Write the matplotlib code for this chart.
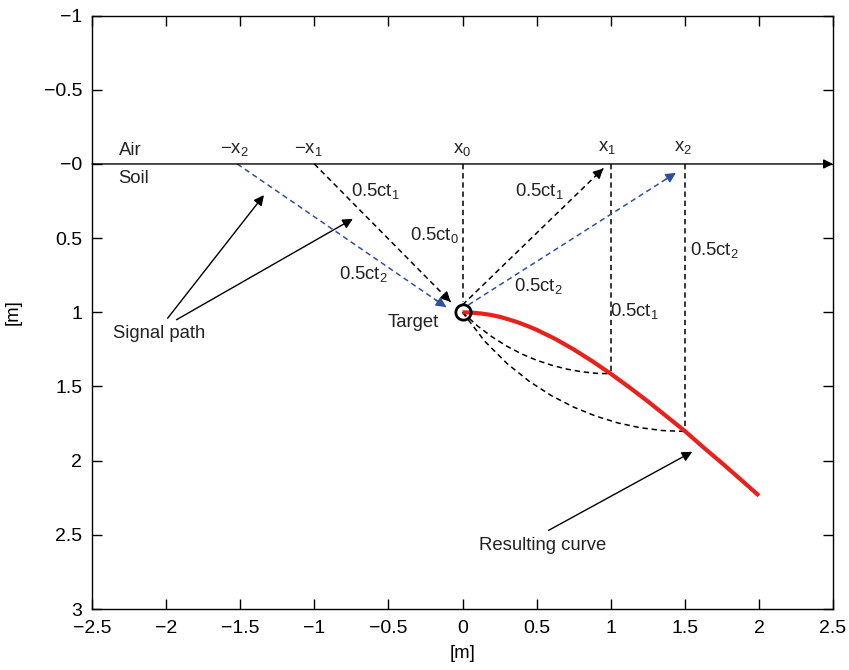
import matplotlib
matplotlib.use("Agg")
import matplotlib.pyplot as plt

plt.rcParams["font.family"] = ["Liberation Sans", "DejaVu Sans"]
plt.rcParams["mathtext.fontset"] = "custom"
plt.rcParams["mathtext.rm"] = "Liberation Sans"
plt.rcParams["mathtext.it"] = "Liberation Sans"

FS = 13.3
TICK_FS = 14
BLUE = "#2f4f9f"
RED = "#e8211d"

# axis ticks
xticks = [-2.5, -2, -1.5, -1, -0.5, 0, 0.5, 1, 1.5, 2, 2.5]
xticklabels = ["\u22122.5", "\u22122", "\u22121.5", "\u22121", "\u22120.5", "0", "0.5", "1", "1.5", "2", "2.5"]
yticks = [-1, -0.5, 0, 0.5, 1, 1.5, 2, 2.5, 3]
yticklabels = ["\u22121", "\u22120.5", "\u22120", "0.5", "1", "1.5", "2", "2.5", "3"]

# target position
target = (0.0, 1.0)

# resulting (red) curve
curve_x = [0, 0.0625, 0.125, 0.1875, 0.25, 0.3125, 0.375, 0.4375, 0.5, 0.625, 0.75, 0.875,
           1.0, 1.125, 1.25, 1.375, 1.5, 1.625, 1.75, 1.875, 2.0]
curve_y = [1.0, 1.002, 1.008, 1.017, 1.03, 1.048, 1.068, 1.092, 1.118, 1.179, 1.25, 1.329,
           1.414, 1.505, 1.60, 1.70, 1.80, 1.91, 2.016, 2.125, 2.236]

# dashed arcs from target
arc1_x = [0, 0.1, 0.2, 0.3, 0.4, 0.5, 0.6, 0.7, 0.8, 0.9, 1.0]
arc1_y = [1.0, 1.091, 1.166, 1.229, 1.281, 1.323, 1.356, 1.382, 1.40, 1.411, 1.414]
arc2_x = [0, 0.15, 0.3, 0.45, 0.6, 0.75, 0.9, 1.05, 1.2, 1.35, 1.5]
arc2_y = [1.0, 1.195, 1.345, 1.465, 1.562, 1.639, 1.70, 1.746, 1.778, 1.797, 1.803]

# vertical dashed lines: x, bottom y
vlines_x = [0.0, 1.0, 1.5]
vlines_y = [0.93, 1.414, 1.803]

# dashed signal paths: (start, end, colour)
paths = [
    ((-1.0, 0.0), (-0.08, 0.93), "black"),
    ((-1.52, 0.0), (-0.11, 0.965), BLUE),
    ((0.0, 0.95), (0.95, 0.03), "black"),
    ((0.04, 0.95), (1.44, 0.06), BLUE),
]

# labels
labels = [
    ("Air", -2.24, -0.09),
    ("Soil", -2.22, 0.10),
    (r"$\mathregular{-x_2}$", -1.54, -0.10),
    (r"$\mathregular{-x_1}$", -1.04, -0.10),
    (r"$\mathregular{x_0}$", 0.0, -0.10),
    (r"$\mathregular{x_1}$", 0.975, -0.11),
    (r"$\mathregular{x_2}$", 1.49, -0.11),
    (r"$\mathregular{0.5ct_1}$", -0.59, 0.18),
    (r"$\mathregular{0.5ct_0}$", -0.19, 0.48),
    (r"$\mathregular{0.5ct_2}$", -0.67, 0.74),
    (r"$\mathregular{0.5ct_1}$", 0.52, 0.18),
    (r"$\mathregular{0.5ct_2}$", 0.51, 0.82),
    (r"$\mathregular{0.5ct_2}$", 1.70, 0.58),
    (r"$\mathregular{0.5ct_1}$", 1.16, 0.99),
    ("Target", -0.33, 1.07),
    ("Signal path", -2.05, 1.14),
    ("Resulting curve", 0.54, 2.57),
]

# pointer arrows: (from, to)
pointers = [
    ((-1.99, 1.04), (-1.34, 0.21)),
    ((-1.93, 1.05), (-0.74, 0.37)),
    ((0.58, 2.47), (1.55, 1.94)),
]

fig = plt.figure(figsize=(8.49, 6.70), dpi=100)
ax = fig.add_axes([0.1084, 0.091, 0.8728, 0.8857])

dash = (0, (3.5, 2.5))

# surface line with arrow
ax.annotate("", xy=(2.5, 0), xytext=(-2.5, 0),
            arrowprops=dict(arrowstyle="-|>", color="black", lw=1.0,
                            mutation_scale=14, shrinkA=0, shrinkB=0))

for x, yb in zip(vlines_x, vlines_y):
    ax.plot([x, x], [0, yb], color="black", lw=1.1, linestyle=dash)

ax.plot(arc1_x, arc1_y, color="black", lw=1.1, linestyle=dash)
ax.plot(arc2_x, arc2_y, color="black", lw=1.1, linestyle=dash)

for (x0, y0), (x1, y1), c in paths:
    ax.plot([x0, x1], [y0, y1], color=c, lw=1.1, linestyle=dash)
    bx = x1 - (x1 - x0) * 0.05
    by = y1 - (y1 - y0) * 0.05
    ax.annotate("", xy=(x1, y1), xytext=(bx, by),
                arrowprops=dict(arrowstyle="-|>", color=c, lw=1.0,
                                mutation_scale=15, shrinkA=0, shrinkB=0))

ax.plot(curve_x, curve_y, color=RED, lw=3, solid_capstyle="butt",
        solid_joinstyle="round", zorder=4)
ax.plot([target[0]], [target[1]], marker="o", markersize=11, markerfacecolor="none",
        markeredgecolor="black", markeredgewidth=2, zorder=5)

for (x0, y0), (x1, y1) in pointers:
    ax.annotate("", xy=(x1, y1), xytext=(x0, y0),
                arrowprops=dict(arrowstyle="-|>", color="black", lw=1.0,
                                mutation_scale=15, shrinkA=0, shrinkB=0))

for txt, x, y in labels:
    ax.text(x, y, txt, fontsize=FS, ha="center", va="center", color="#222222")

ax.set_xlim(-2.5, 2.5)
ax.set_ylim(3, -1)
ax.set_xticks(xticks)
ax.set_xticklabels(xticklabels)
ax.set_yticks(yticks)
ax.set_yticklabels(yticklabels)
ax.tick_params(direction="in", length=7, width=1, labelsize=TICK_FS, top=True, right=True)
ax.tick_params(axis="x", pad=8)
ax.tick_params(axis="y", pad=7)
for s in ax.spines.values():
    s.set_linewidth(1.0)
ax.set_xlabel("[m]", fontsize=FS, labelpad=6)
ax.set_ylabel("[m]", fontsize=FS, labelpad=16)

fig.savefig("out.png", dpi=100)
